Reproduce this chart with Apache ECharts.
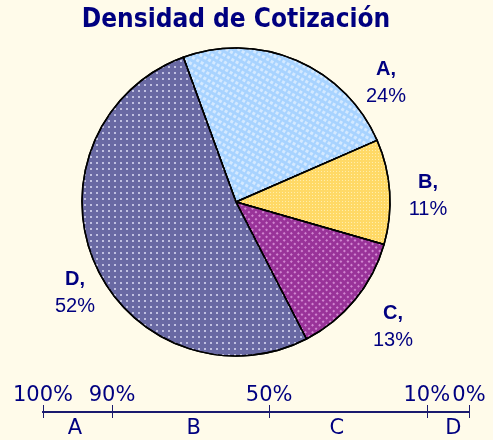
<!DOCTYPE html>
<html>
<head>
<meta charset="utf-8">
<script src="https://cdn.jsdelivr.net/npm/echarts@6/dist/echarts.min.js"></script>
<style>
    html, body { margin: 0; padding: 0; background: #fffbea; }
    #chart { width: 493px; height: 440px; }
</style>
</head>
<body>
<div id="chart"></div>
<script>
// datos del pastel
var categories = ['A', 'B', 'C', 'D'];
var values = [24, 11, 13, 52];

// escala inferior (posicion 0..100 a lo largo de la linea)
var scaleTicks = [0, 16.2, 53.1, 90.1, 100];
var scaleTickLabels = ['100%', '90%', '50%', '10%', '0%'];
var scaleBandPos = [7.5, 35.4, 69, 96.3];
var scaleBandLabels = ['A', 'B', 'C', 'D'];

var navy = '#000080';
var colors = ['#a8d3ff', '#ffd966', '#993399', '#6969a3'];
// tramas de puntos de cada sector
var decals = [
    { symbol: 'rect', symbolSize: 1, color: 'rgba(255,255,255,0.5)', dashArrayX: [[3, 2]], dashArrayY: [3, 3] },
    { symbol: 'rect', symbolSize: 1, color: 'rgba(255,245,200,0.7)', dashArrayX: [[1, 2]], dashArrayY: [1, 2] },
    { symbol: 'rect', symbolSize: 1, color: 'rgba(240,180,240,0.65)', dashArrayX: [[2, 3]], dashArrayY: [2, 3] },
    { symbol: 'rect', symbolSize: 1, color: 'rgba(215,215,240,0.8)', dashArrayX: [[2, 4]], dashArrayY: [2, 4] }
];
// centro de cada etiqueta
var labelPos = [[386, 83], [428, 196], [393, 327], [75, 293]];

var chart = echarts.init(document.getElementById('chart'));
var option = {
    backgroundColor: '#fffbea',
    aria: { enabled: true, decal: { show: true } },
    title: {
        text: 'Densidad de Cotización',
        left: 231,
        top: 2,
        textAlign: 'center',
        textStyle: {
            fontFamily: 'DejaVu Sans Condensed',
            fontWeight: 'bold',
            fontSize: 26,
            color: navy
        }
    },
    grid: { left: 43, right: 24, top: 411, height: 1 },
    xAxis: [{
        type: 'value',
        position: 'top',
        min: 0,
        max: 100,
        splitLine: { show: false },
        axisLine: { show: true, lineStyle: { color: '#1a1a6e', width: 2 } },
        axisTick: { show: true, customValues: scaleTicks, length: 7, lineStyle: { color: '#1a1a6e', width: 1 } },
        axisLabel: {
            customValues: scaleTicks,
            margin: 5,
            fontFamily: 'DejaVu Sans',
            fontSize: 21,
            color: navy,
            formatter: function (v) {
                return scaleTickLabels[scaleTicks.indexOf(v)];
            }
        }
    }, {
        type: 'value',
        position: 'bottom',
        min: 0,
        max: 100,
        splitLine: { show: false },
        axisLine: { show: true, lineStyle: { color: '#1a1a6e', width: 2 } },
        axisTick: { show: true, customValues: scaleTicks, length: 6, lineStyle: { color: '#1a1a6e', width: 1 } },
        axisLabel: {
            customValues: scaleBandPos,
            margin: 6,
            fontFamily: 'DejaVu Sans',
            fontSize: 21,
            color: navy,
            formatter: function (v) {
                return scaleBandLabels[scaleBandPos.indexOf(v)];
            }
        }
    }],
    yAxis: { type: 'value', show: false },
    series: [{
        type: 'pie',
        center: [236, 202],
        radius: 154,
        startAngle: 110,
        clockwise: true,
        avoidLabelOverlap: false,
        silent: true,
        itemStyle: { borderColor: '#000', borderWidth: 1.5 },
        labelLine: { show: false },
        label: {
            show: true,
            formatter: '{n|{b},}\n{p|{c}%}',
            rich: {
                n: { fontFamily: 'Liberation Sans', fontWeight: 'bold', fontSize: 20, color: navy, lineHeight: 27, align: 'center' },
                p: { fontFamily: 'Liberation Sans', fontSize: 20, color: navy, lineHeight: 27, align: 'center' }
            }
        },
        labelLayout: function (params) {
            var p = labelPos[params.dataIndex];
            return { x: p[0], y: p[1], align: 'center', verticalAlign: 'middle' };
        },
        data: categories.map(function (c, i) {
            return {
                name: c,
                value: values[i],
                itemStyle: { color: colors[i], decal: decals[i] }
            };
        })
    }]
};
chart.setOption(option);
</script>
</body>
</html>
